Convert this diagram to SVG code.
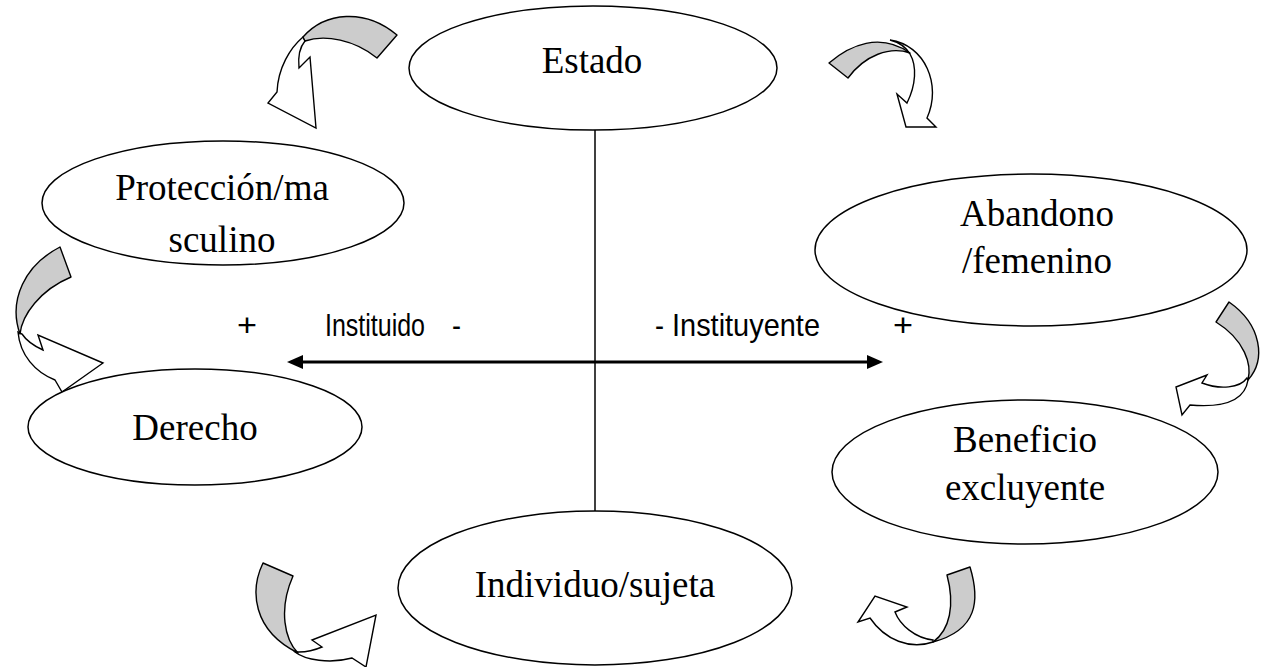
<svg xmlns="http://www.w3.org/2000/svg" width="1273" height="667" viewBox="0 0 1273 667">
<style>
.node{fill:#fff;stroke:#000;stroke-width:1.5}
.t{font-family:"Liberation Serif","Times New Roman",serif;font-size:37px;fill:#000;text-anchor:middle}
.s{font-family:"Liberation Sans",Arial,sans-serif;font-size:32px;fill:#000}
.g{fill:#cccccc;stroke:#000;stroke-width:1.4;stroke-linejoin:round}
.w{fill:#fff;stroke:#000;stroke-width:1.4;stroke-linejoin:miter}
.ln{stroke:#000;stroke-width:1.5;fill:none}
</style>
<rect width="1273" height="667" fill="#fff"/>
<g id="connectors">
<line class="ln" x1="595" y1="130" x2="595" y2="512"/>
<line x1="295" y1="362" x2="875" y2="362" stroke="#000" stroke-width="3"/>
<path d="M287,362 l16,-7 v14 z" fill="#000"/>
<path d="M883,362 l-16,-7 v14 z" fill="#000"/>
</g>
<g id="cycle-arrows">
<g id="arrow1">
<path class="w" d="M303,37 C290,48 278,68 277,92 L268,103 L316,128 L310,57 L299,68 C298,58 299,48 305,41 Z"/>
<path class="g" d="M303,37 C325,12 365,8 397,35 L377,58 C355,40 325,34 305,41 Z"/>
</g>
<g id="arrow2">
<path class="w" d="M890,40 C925,45 942,85 927,118 L936,127 L906,127 L897,94 L907,103 C916,85 917,66 910,54 C905,46 898,42 890,40 Z"/>
<path class="g" d="M829,63 C850,45 880,32 910,53 C890,46 865,55 848,78 Z"/>
</g>
<g id="arrow3">
<path class="w" d="M18,332 C20,355 35,372 55,380 L62,392 L103,363 L38,335 L43,350 C34,346 26,340 22,334 Z"/>
<path class="g" d="M60,247 C25,265 8,300 20,334 C22,315 40,290 71,277 Z"/>
</g>
<g id="arrow4">
<path class="w" d="M1248,380 C1245,400 1225,408 1190,405 L1182,415 L1176,387 L1207,375 L1202,383 C1220,390 1240,388 1247,378 Z"/>
<path class="g" d="M1229,302 C1262,325 1266,360 1248,380 C1252,365 1245,340 1216,322 Z"/>
</g>
<g id="arrow5">
<path class="w" d="M295,652 C305,660 330,664 352,658 L366,667 L376,615 L312,640 L322,647 C315,650 305,652 299,652 Z"/>
<path class="g" d="M263,563 C250,590 252,630 298,653 C285,640 278,610 293,576 Z"/>
</g>
<g id="arrow6">
<path class="w" d="M933,642 C910,650 885,640 870,618 L858,622 L875,596 L907,607 L895,612 C900,625 915,638 933,640 Z"/>
<path class="g" d="M970,567 C980,600 978,630 933,642 C950,630 955,605 947,575 Z"/>
</g>
</g>
<g id="estado">
<ellipse class="node" cx="593" cy="68" rx="184" ry="62"/>
<text class="t" x="592" y="73">Estado</text>
</g>
<g id="proteccion">
<ellipse class="node" cx="223" cy="203" rx="181" ry="62"/>
<text class="t" x="222" y="200">Protección/ma</text>
<text class="t" x="222" y="252">sculino</text>
</g>
<g id="abandono">
<ellipse class="node" cx="1031" cy="250" rx="216" ry="76"/>
<text class="t" x="1037" y="226">Abandono</text>
<text class="t" x="1037" y="273">/femenino</text>
</g>
<g id="derecho">
<ellipse class="node" cx="195" cy="427" rx="167" ry="58"/>
<text class="t" x="195" y="440">Derecho</text>
</g>
<g id="beneficio">
<ellipse class="node" cx="1025" cy="472" rx="193" ry="72"/>
<text class="t" x="1025" y="452">Beneficio</text>
<text class="t" x="1025" y="500">excluyente</text>
</g>
<g id="individuo">
<ellipse class="node" cx="595" cy="588" rx="197" ry="77"/>
<text class="t" x="595" y="597">Individuo/sujeta</text>
</g>
<g id="axis-labels">
<text class="s" x="237" y="336" textLength="20" lengthAdjust="spacingAndGlyphs">+</text>
<text class="s" x="325" y="336" textLength="100" lengthAdjust="spacingAndGlyphs">Instituido</text>
<text class="s" x="452" y="336" textLength="9" lengthAdjust="spacingAndGlyphs">-</text>
<text class="s" x="655" y="336" textLength="9" lengthAdjust="spacingAndGlyphs">-</text>
<text class="s" x="672" y="336" textLength="148" lengthAdjust="spacingAndGlyphs">Instituyente</text>
<text class="s" x="893" y="336" textLength="20" lengthAdjust="spacingAndGlyphs">+</text>
</g>
</svg>
